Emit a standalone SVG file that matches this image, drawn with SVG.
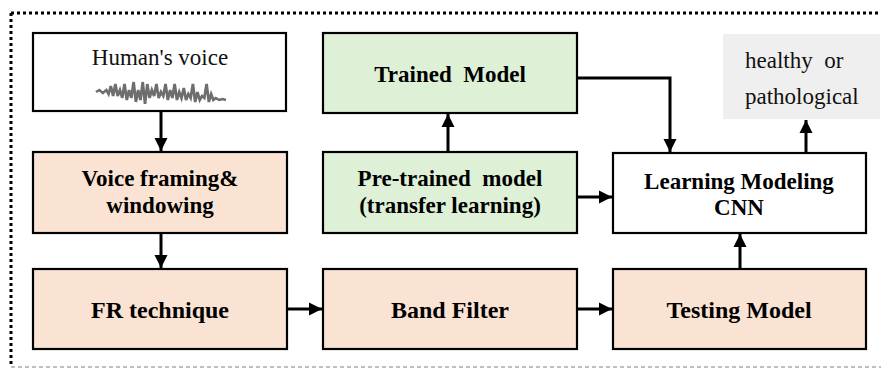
<svg xmlns="http://www.w3.org/2000/svg" width="881" height="369" viewBox="0 0 881 369">
<style>
.box{stroke:#000;stroke-width:2.2}
.peach{fill:#fbe3d3}
.green{fill:#def0d6}
.white{fill:#fff}
.t{font-family:"Liberation Serif","Times New Roman",serif;font-size:23px;font-weight:bold;fill:#000;text-anchor:middle}
.b{font-size:24px}
.r{font-family:"Liberation Serif","Times New Roman",serif;font-size:23px;fill:#111}
.c{stroke:#000;stroke-width:3;fill:none}
</style>
<defs>
<marker id="ah" viewBox="0 0 10 10" refX="10" refY="5" markerWidth="4.4" markerHeight="4.4" markerUnits="strokeWidth" orient="auto">
<path d="M0,0 L10,5 L0,10 z" fill="#000"/>
</marker>
<filter id="blur" x="-5%" y="-20%" width="110%" height="140%"><feGaussianBlur stdDeviation="0.6"/></filter>
</defs>
<rect width="881" height="369" fill="#fff"/>
<g id="frame">
<path d="M11,13 H881" stroke="#000" stroke-width="3" stroke-dasharray="3,3"/>
<path d="M11,13 V367" stroke="#000" stroke-width="3" stroke-dasharray="3,3"/>
<path d="M11,367 H881" stroke="#aaa" stroke-width="1.5" stroke-dasharray="4,3"/>
</g>
<g id="human-voice">
<rect class="box white" x="33" y="33" width="253" height="78"/>
<text class="r" x="160" y="65" text-anchor="middle" font-size="24">Human's voice</text>
<path transform="translate(96,0) scale(1.14,1) translate(-96,0)" filter="url(#blur)" d="M96,92 l3,-2 3,3 3,-3 2,4 2,-8 2,10 2,-12 2,12 2,-6 2,8 2,-14 2,16 2,-10 2,8 2,-16 2,20 2,-12 2,10 2,-18 2,22 2,-20 2,14 2,-8 2,6 2,-12 2,14 2,-6 2,4 2,-12 2,16 2,-10 2,8 2,-14 2,16 2,-8 2,6 2,-10 2,12 2,-6 2,4 2,-14 2,18 2,-10 2,8 2,-4 2,2 2,-14 2,18 2,-8 2,6 2,-2 3,2 3,-1 3,1" stroke="#555" stroke-width="2.4" fill="none" opacity="0.85"/>
</g>
<g id="trained-model">
<rect class="box green" x="323" y="33" width="254" height="80"/>
<text class="t" x="450" y="82">Trained&#160; Model</text>
</g>
<g id="result">
<rect x="723" y="34" width="157" height="85" fill="#efefef"/>
<text class="r" x="745" y="68">healthy&#160; or</text>
<text class="r" x="745" y="104">pathological</text>
</g>
<g id="voice-framing">
<rect class="box peach" x="33" y="152" width="254" height="81"/>
<text class="t" x="160" y="186">Voice framing&amp;</text>
<text class="t" x="160" y="213">windowing</text>
</g>
<g id="pretrained">
<rect class="box green" x="323" y="152" width="254" height="81"/>
<text class="t" x="450" y="186">Pre-trained&#160; model</text>
<text class="t" x="450" y="213">(transfer learning)</text>
</g>
<g id="cnn">
<rect class="box white" x="613" y="153" width="253" height="80"/>
<text class="t" x="739" y="189">Learning Modeling</text>
<text class="t" x="739" y="215">CNN</text>
</g>
<g id="fr">
<rect class="box peach" x="33" y="269" width="254" height="80"/>
<text class="t b" x="160" y="318">FR technique</text>
</g>
<g id="band">
<rect class="box peach" x="323" y="269" width="254" height="80"/>
<text class="t b" x="450" y="318">Band Filter</text>
</g>
<g id="testing">
<rect class="box peach" x="613" y="269" width="253" height="80"/>
<text class="t b" x="739" y="318">Testing Model</text>
</g>
<g id="connectors">
<path class="c" d="M161,112 V151" marker-end="url(#ah)"/>
<path class="c" d="M161,234 V268" marker-end="url(#ah)"/>
<path class="c" d="M288,309 H322" marker-end="url(#ah)"/>
<path class="c" d="M578,309 H612" marker-end="url(#ah)"/>
<path class="c" d="M740,268 V234" marker-end="url(#ah)"/>
<path class="c" d="M448,151 V114" marker-end="url(#ah)"/>
<path class="c" d="M578,197 H612" marker-end="url(#ah)"/>
<path class="c" d="M578,78 H670 V152" marker-end="url(#ah)"/>
<path class="c" d="M806,152 V120" marker-end="url(#ah)"/>
</g>
</svg>
